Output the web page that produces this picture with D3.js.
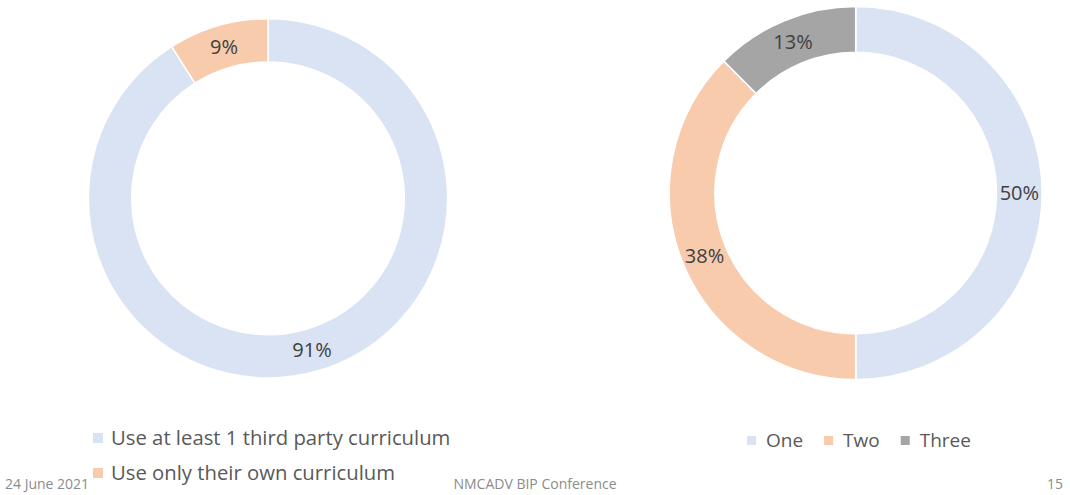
<!DOCTYPE html>
<html>
<head>
<meta charset="utf-8">
<script src="https://cdn.jsdelivr.net/npm/d3@7"></script>
<style>
  html, body { margin: 0; padding: 0; background: #ffffff; }
  svg { display: block; font-family: "Open Sans", "Noto Sans", sans-serif; }
</style>
</head>
<body>
<svg id="chart" width="1070" height="495"></svg>
<script>
// Curriculum usage
const curriculumLabels = ["Use at least 1 third party curriculum", "Use only their own curriculum"];
const curriculumValues = [91, 9];

// Number of curricula used
const countLabels = ["One", "Two", "Three"];
const countValues = [50, 37.5, 12.5];

const sliceColors = ["#DAE3F3", "#F8CBAD", "#A5A5A5"];

const footerDate = "24 June 2021";
const footerTitle = "NMCADV BIP Conference";
const footerPage = "15";

const svg = d3.select("#chart");
const textColor = "#404040";

function donut(values, cx, cy, outerR, innerR) {
  const total = d3.sum(values);
  const pie = d3.pie().sort(null).value(d => d);
  const arc = d3.arc().innerRadius(innerR).outerRadius(outerR);
  const g = svg.append("g").attr("transform", `translate(${cx},${cy})`);
  const arcs = pie(values);
  g.selectAll("path.slice")
    .data(arcs)
    .join("path")
    .attr("class", "slice")
    .attr("d", arc)
    .attr("fill", (d, i) => sliceColors[i])
    .attr("stroke", "#ffffff")
    .attr("stroke-width", 1.5);
  g.selectAll("text.value")
    .data(arcs)
    .join("text")
    .attr("class", "value")
    .attr("transform", d => `translate(${arc.centroid(d)})`)
    .attr("text-anchor", "middle")
    .attr("dy", "0.36em")
    .attr("font-size", 20)
    .attr("fill", textColor)
    .text(d => Math.round(d.data / total * 100) + "%");
}

donut(curriculumValues, 268, 198.3, 179.6, 136.3);
donut(countValues, 855.7, 193, 186.5, 140.8);

// Left legend: stacked entries
const leftLegend = svg.append("g");
curriculumLabels.forEach((label, i) => {
  const y = 438 + i * 35;
  leftLegend.append("rect")
    .attr("x", 93).attr("y", y - 5).attr("width", 10).attr("height", 10)
    .attr("fill", sliceColors[i]);
  leftLegend.append("text")
    .attr("x", 111).attr("y", y).attr("dy", "0.36em")
    .attr("font-size", 20.3).attr("fill", "#595959")
    .text(label);
});

// Right legend: single row
const rightLegend = svg.append("g");
let lx = 747;
countLabels.forEach((label, i) => {
  rightLegend.append("rect")
    .attr("x", lx).attr("y", 436).attr("width", 9).attr("height", 9)
    .attr("fill", sliceColors[i]);
  const t = rightLegend.append("text")
    .attr("x", lx + 19).attr("y", 440.5).attr("dy", "0.36em")
    .attr("font-size", 19).attr("fill", "#595959")
    .text(label);
  lx += 19 + t.node().getComputedTextLength() + 21;
});

// Footer
const footer = svg.append("g").attr("fill", "#8B8B8B").attr("font-size", 14);
footer.append("text").attr("x", 5).attr("y", 489).text(footerDate);
footer.append("text").attr("x", 535).attr("y", 489).attr("text-anchor", "middle").text(footerTitle);
footer.append("text").attr("x", 1063).attr("y", 489).attr("text-anchor", "end").text(footerPage);
</script>
</body>
</html>
